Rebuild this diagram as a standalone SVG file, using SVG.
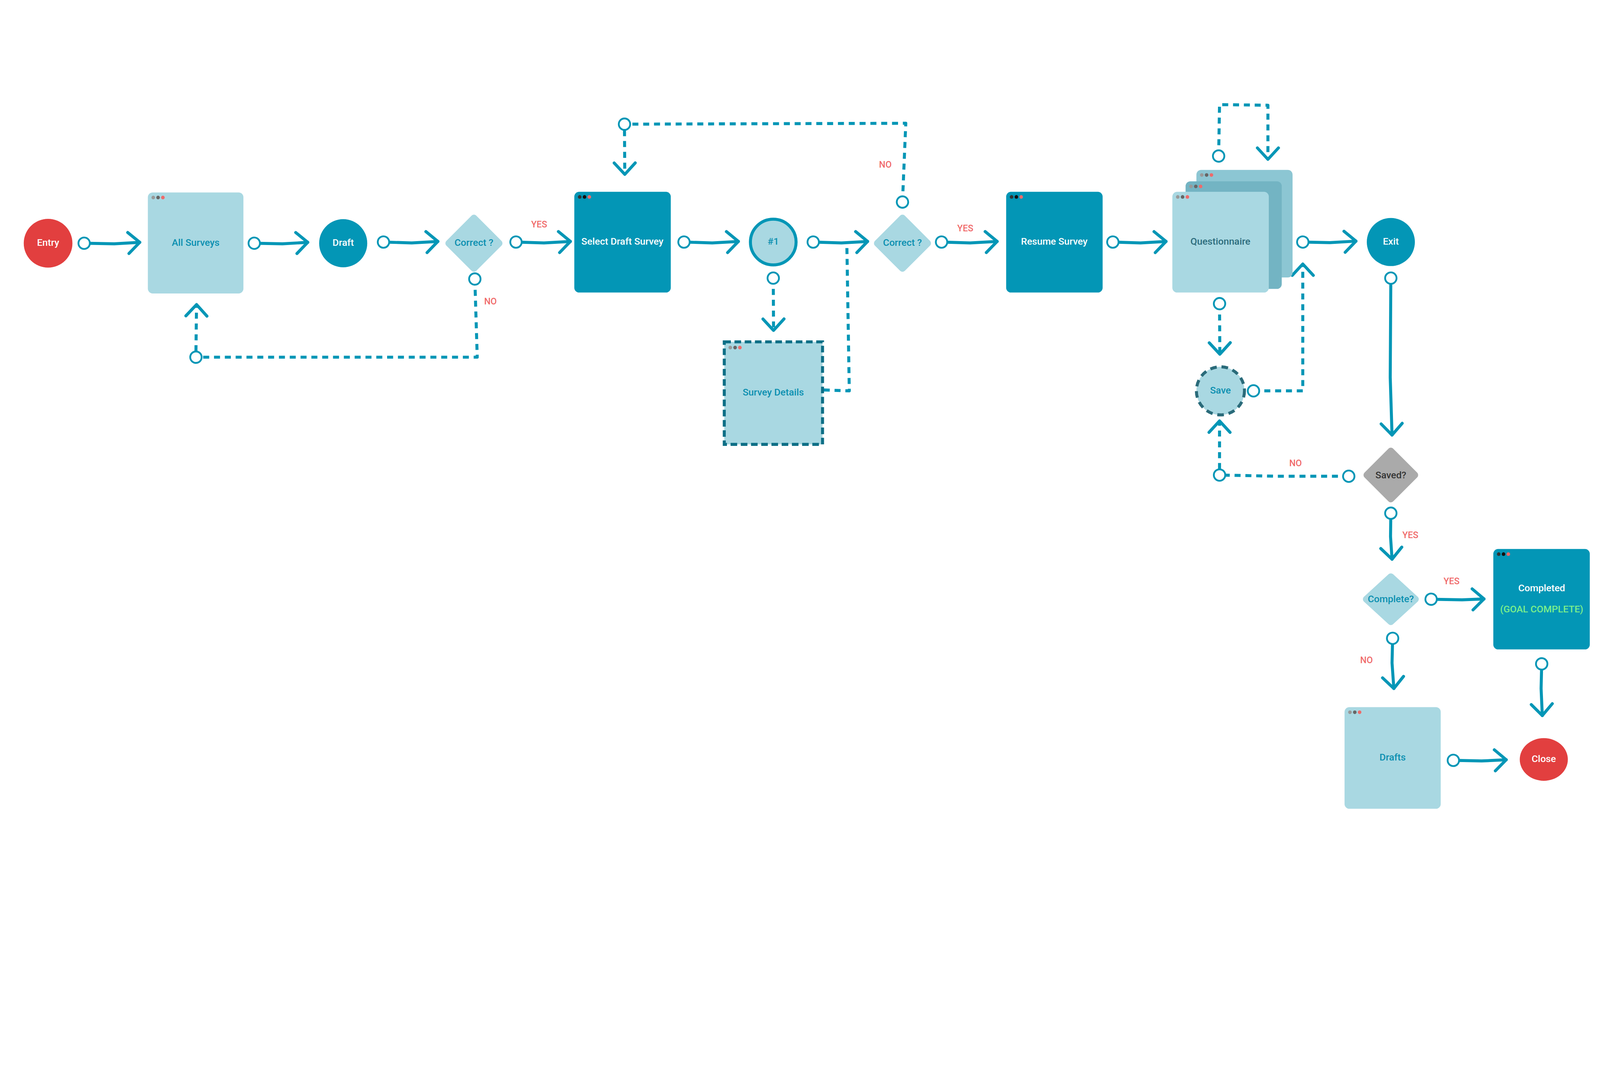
<svg xmlns="http://www.w3.org/2000/svg" width="5324" height="2738" viewBox="0 0 5324 2738" style="width:100vw;height:100vh;display:block" preserveAspectRatio="xMidYMin meet">
<style>
text{font-family:Roboto,"Liberation Sans",sans-serif;font-weight:500;text-anchor:middle;dominant-baseline:middle}
.t{font-size:32px}
.lbl{font-size:30px;fill:#f06a6a}
.dk{fill:#0396b6}
.lt{fill:#a9d8e2}
.c{fill:none;stroke:#0396b6;stroke-width:10;stroke-linecap:round;stroke-linejoin:round}
.d{stroke-dasharray:20 16;stroke-linecap:butt}
.oc{fill:#fff;stroke:#0396b6;stroke-width:6}
</style>
<defs>
<marker id="ah" markerUnits="userSpaceOnUse" markerWidth="100" markerHeight="100" viewBox="-60 -50 80 100" refX="0" refY="0" orient="auto" overflow="visible">
<path d="M-38,-35 L0,0 L-38,35" fill="none" stroke="#0396b6" stroke-width="10" stroke-linecap="round" stroke-linejoin="round"/>
</marker>
<marker id="oc" markerUnits="userSpaceOnUse" markerWidth="60" markerHeight="60" viewBox="-30 -30 60 60" refX="0" refY="0" orient="auto" overflow="visible">
<circle r="19" fill="#fff" stroke="#0396b6" stroke-width="6"/>
</marker>
<g id="dotsL"><circle cx="18" cy="17" r="6" fill="#999"/><circle cx="34" cy="17" r="6" fill="#666"/><circle cx="50" cy="17" r="6" fill="#ee6b6b"/></g>
<g id="dotsD"><circle cx="18" cy="17" r="6" fill="#333"/><circle cx="34" cy="17" r="6" fill="#111"/><circle cx="50" cy="17" r="6" fill="#ee6b6b"/></g>
</defs>
<rect width="5324" height="2738" fill="#fff"/>

<g id="connectors">
<path class="c" marker-start="url(#oc)" marker-end="url(#ah)" d="M280,809 L380,811 L465,806"/>
<path class="c" marker-start="url(#oc)" marker-end="url(#ah)" d="M846,809 L940,811 L1024,806"/>
<path class="c" marker-start="url(#oc)" marker-end="url(#ah)" d="M1276,805 L1370,808 L1457,803"/>
<path class="c" marker-start="url(#oc)" marker-end="url(#ah)" d="M1717,805 L1810,808 L1898,803"/>
<path class="c d" marker-start="url(#oc)" d="M1580,928 L1588,1188 L652,1188"/>
<circle class="oc" cx="652" cy="1188" r="19"/>
<path class="c d" marker-end="url(#ah)" d="M652,1168 L654,1013"/>
<path class="c" marker-start="url(#oc)" marker-end="url(#ah)" d="M2276,805 L2370,808 L2457,803"/>
<path class="c d" marker-start="url(#oc)" marker-end="url(#ah)" d="M2573,925 L2574,1099"/>
<path class="c" marker-start="url(#oc)" marker-end="url(#ah)" d="M2706,805 L2800,808 L2887,803"/>
<path class="c d" d="M2741,1297 L2826,1300 L2818,820"/>
<path class="c d" marker-start="url(#oc)" d="M3003,672 L3014,410 L2080,413"/>
<circle class="oc" cx="2078" cy="413" r="19"/>
<path class="c d" marker-end="url(#ah)" d="M2078,433 L2079,580"/>
<path class="c" marker-start="url(#oc)" marker-end="url(#ah)" d="M3133,805 L3228,808 L3318,803"/>
<path class="c" marker-start="url(#oc)" marker-end="url(#ah)" d="M3703,805 L3795,808 L3880,803"/>
<path class="c d" marker-start="url(#oc)" marker-end="url(#ah)" d="M4055,519 L4058,348 L4219,350 L4219,530"/>
<path class="c" marker-start="url(#oc)" marker-end="url(#ah)" d="M4335,805 L4425,807 L4512,802"/>
<path class="c d" marker-start="url(#oc)" marker-end="url(#ah)" d="M4058,1010 L4059,1178"/>
<path class="c d" marker-start="url(#oc)" marker-end="url(#ah)" d="M4171,1300 L4335,1300 L4335,878"/>
<path class="c" marker-start="url(#oc)" marker-end="url(#ah)" d="M4628,925 L4626,1255 L4632,1447"/>
<path class="c d" marker-start="url(#oc)" d="M4488,1584 L4250,1584 L4058,1580"/>
<circle class="oc" cx="4058" cy="1580" r="19"/>
<path class="c d" marker-end="url(#ah)" d="M4058,1560 L4058,1400"/>
<path class="c" marker-start="url(#oc)" marker-end="url(#ah)" d="M4628,1707 L4627,1785 L4632,1860"/>
<path class="c" marker-start="url(#oc)" marker-end="url(#ah)" d="M4762,1993 L4865,1995 L4938,1992"/>
<path class="c" marker-start="url(#oc)" marker-end="url(#ah)" d="M4634,2123 L4632,2205 L4638,2290"/>
<path class="c" marker-start="url(#oc)" marker-end="url(#ah)" d="M5130,2208 L5128,2290 L5132,2380"/>
<path class="c" marker-start="url(#oc)" marker-end="url(#ah)" d="M4836,2529 L4930,2531 L5012,2527"/>
<text class="lbl" x="1794" y="748">YES</text>
<text class="lbl" x="1632" y="1005">NO</text>
<text class="lbl" x="2946" y="550">NO</text>
<text class="lbl" x="3212" y="761">YES</text>
<text class="lbl" x="4311" y="1543">NO</text>
<text class="lbl" x="4693" y="1782">YES</text>
<text class="lbl" x="4830" y="1935">YES</text>
<text class="lbl" x="4547" y="2198">NO</text>
</g>

<g id="entry"><circle cx="160" cy="809" r="81" fill="#e23f3f"/><text class="t" x="160" y="809" fill="#fff">Entry</text></g>
<g id="all-surveys"><rect x="492" y="640" width="318" height="336" rx="16" class="lt"/><use href="#dotsL" x="492" y="640"/><text class="t" x="651" y="809" fill="#0a8fb0">All Surveys</text></g>
<g id="draft"><circle cx="1142" cy="809" r="80" class="dk"/><text class="t" x="1142" y="809" fill="#fff">Draft</text></g>
<g id="correct1"><path d="M1577,725 L1661,809 L1577,893 L1493,809 Z" class="lt" stroke="#a9d8e2" stroke-width="22" stroke-linejoin="round"/><text class="t" x="1577" y="809" fill="#0a8fb0">Correct ?</text></g>
<g id="select-draft"><rect x="1911" y="638" width="321" height="335" rx="16" class="dk"/><use href="#dotsD" x="1911" y="638"/><text class="t" x="2071" y="805" fill="#fff">Select Draft Survey</text></g>
<g id="n1"><circle cx="2573" cy="805" r="76" fill="#a9d8e2" stroke="#0396b6" stroke-width="10"/><text class="t" x="2573" y="805" fill="#0a8fb0">#1</text></g>
<g id="survey-details"><rect x="2410" y="1137" width="327" height="341" fill="#a9d8e2" stroke="#0d6f86" stroke-width="10" stroke-dasharray="22 12"/><use href="#dotsL" x="2412" y="1139"/><text class="t" x="2573" y="1307" fill="#0a8fb0">Survey Details</text></g>
<g id="correct2"><path d="M3003,725 L3087,809 L3003,893 L2919,809 Z" class="lt" stroke="#a9d8e2" stroke-width="22" stroke-linejoin="round"/><text class="t" x="3003" y="809" fill="#0a8fb0">Correct ?</text></g>
<g id="resume"><rect x="3348" y="638" width="321" height="335" rx="16" class="dk"/><use href="#dotsD" x="3348" y="638"/><text class="t" x="3508" y="805" fill="#fff">Resume Survey</text></g>
<g id="questionnaire">
<rect x="3981" y="565" width="320" height="358" rx="16" fill="#8cc6d3"/><use href="#dotsL" x="3981" y="565"/>
<rect x="3945" y="603" width="320" height="358" rx="16" fill="#73b4c3"/><use href="#dotsL" x="3945" y="603"/>
<rect x="3901" y="638" width="321" height="335" rx="16" class="lt"/><use href="#dotsL" x="3901" y="638"/>
<text class="t" x="4061" y="805" fill="#2b6b7b">Questionnaire</text></g>
<g id="exit"><circle cx="4628" cy="805" r="80" class="dk"/><text class="t" x="4628" y="805" fill="#fff">Exit</text></g>
<g id="save"><circle cx="4061" cy="1300" r="80" fill="#a9d8e2" stroke="#2a6b7a" stroke-width="10" stroke-dasharray="22 16"/><text class="t" x="4061" y="1300" fill="#0a8fb0">Save</text></g>
<g id="saved"><path d="M4628,1500 L4708,1580 L4628,1660 L4548,1580 Z" fill="#aaa" stroke="#aaa" stroke-width="22" stroke-linejoin="round"/><text class="t" x="4628" y="1582" fill="#333">Saved?</text></g>
<g id="complete"><path d="M4628,1918 L4710,1993 L4628,2068 L4546,1993 Z" class="lt" stroke="#a9d8e2" stroke-width="22" stroke-linejoin="round"/><text class="t" x="4628" y="1995" fill="#0a8fb0">Complete?</text></g>
<g id="completed"><rect x="4969" y="1826" width="321" height="334" rx="16" class="dk"/><use href="#dotsD" x="4969" y="1826"/><text class="t" x="5130" y="1958" fill="#fff">Completed</text><text class="t" x="5130" y="2028" fill="#7cf08a">(GOAL COMPLETE)</text></g>
<g id="drafts"><rect x="4474" y="2352" width="320" height="338" rx="16" class="lt"/><use href="#dotsL" x="4474" y="2352"/><text class="t" x="4634" y="2521" fill="#0a8fb0">Drafts</text></g>
<g id="close"><ellipse cx="5137" cy="2526" rx="80" ry="71" fill="#e23f3f"/><text class="t" x="5137" y="2526" fill="#fff">Close</text></g>
</svg>
